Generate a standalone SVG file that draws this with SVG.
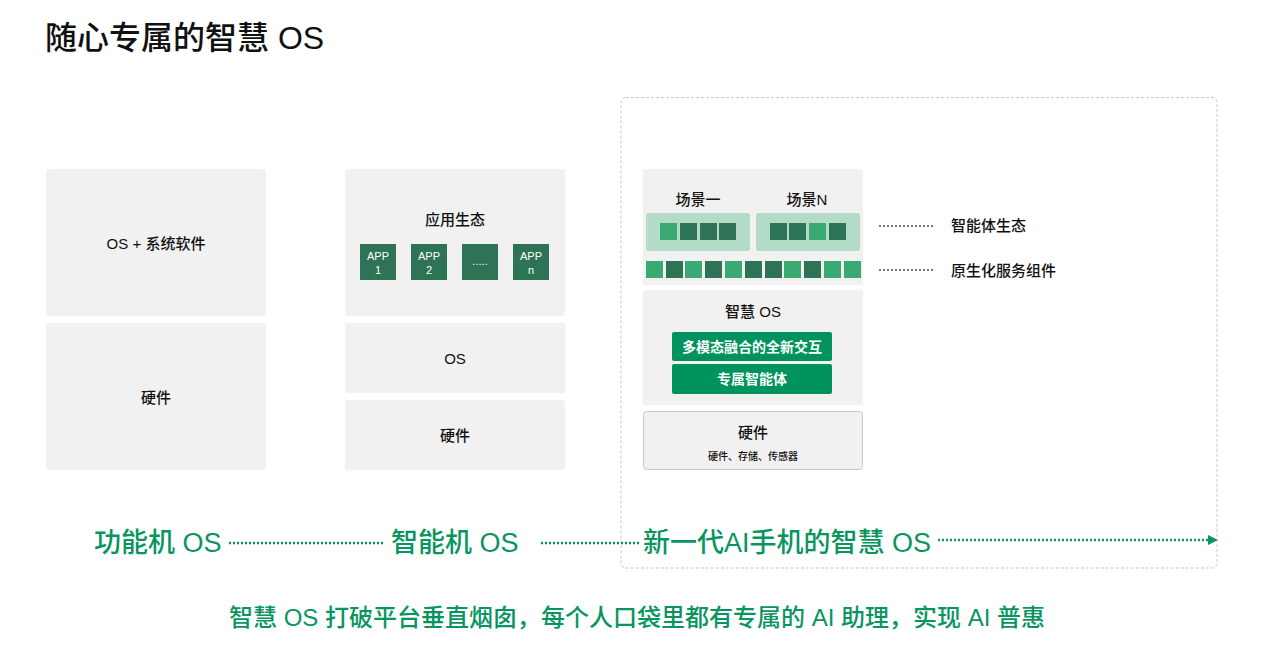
<svg xmlns="http://www.w3.org/2000/svg" width="1264" height="656" viewBox="0 0 1264 656">
<style>
text{font-family:"Liberation Sans","Noto Sans CJK SC",sans-serif;fill:#111}
.box{fill:#f1f1f1}
.t15{font-size:15px;text-anchor:middle;font-weight:500}
.app{fill:#2e7355}
.apt{font-size:11px;fill:#fff;text-anchor:middle}
.lg{fill:#3aaa72}
.dk{fill:#2e7355}
.btn{fill:#00935e}
.bt{font-size:14px;fill:#fff;text-anchor:middle;font-weight:bold}
.grn{fill:#08955f;font-size:27px;font-weight:500}
.dot{stroke:#08955f;stroke-width:2.5;stroke-dasharray:2 2;fill:none}
.gdot{stroke:#777;stroke-width:2;stroke-dasharray:2 2;fill:none}
.lab{font-size:15px;font-weight:500}
</style>
<defs>
<marker id="arr" viewBox="0 0 10 10" refX="0" refY="5" markerWidth="10" markerHeight="10" markerUnits="userSpaceOnUse" orient="auto">
<path d="M0,0 L10,5 L0,10 Z" fill="#08955f"/>
</marker>
</defs>
<rect width="1264" height="656" fill="#fff"/>
<text x="45" y="49" style="font-size:32px;font-weight:500">随心专属的智慧 OS</text>

<rect x="621" y="97.5" width="596" height="470.5" rx="5" fill="none" stroke="#c8c8c8" stroke-dasharray="3 2"/>

<g id="feature-os">
<rect class="box" x="46" y="169" width="220" height="147" rx="3"/>
<text class="t15" x="156" y="249">OS + 系统软件</text>
</g>
<g id="feature-hw">
<rect class="box" x="46" y="323" width="220" height="147" rx="3"/>
<text class="t15" x="156" y="403">硬件</text>
</g>

<g id="smart-eco">
<rect class="box" x="345" y="169" width="220" height="147" rx="3"/>
<text class="t15" x="455" y="225">应用生态</text>
<rect class="app" x="360" y="244" width="36" height="36"/>
<rect class="app" x="411" y="244" width="36" height="36"/>
<rect class="app" x="462" y="244" width="36" height="36"/>
<rect class="app" x="513" y="244" width="36" height="36"/>
<text class="apt" x="378" y="260">APP</text><text class="apt" x="378" y="274">1</text>
<text class="apt" x="429" y="260">APP</text><text class="apt" x="429" y="274">2</text>
<text class="apt" x="480" y="265">.....</text>
<text class="apt" x="531" y="260">APP</text><text class="apt" x="531" y="274">n</text>
</g>
<g id="smart-os">
<rect class="box" x="345" y="323" width="220" height="70" rx="3"/>
<text class="t15" x="455" y="364">OS</text>
</g>
<g id="smart-hw">
<rect class="box" x="345" y="400" width="220" height="70" rx="3"/>
<text class="t15" x="455" y="441">硬件</text>
</g>

<g id="ai-eco">
<rect class="box" x="643" y="169" width="220" height="116" rx="3"/>
<text class="t15" x="698" y="205">场景一</text>
<text class="t15" x="807" y="205">场景N</text>
<rect x="646" y="213" width="104" height="38" rx="3" fill="#b4dac8"/>
<rect x="756" y="213" width="104" height="38" rx="3" fill="#b4dac8"/>
<rect class="lg" x="660" y="223" width="17" height="17"/>
<rect class="dk" x="680" y="223" width="17" height="17"/>
<rect class="dk" x="700" y="223" width="17" height="17"/>
<rect class="dk" x="719" y="223" width="17" height="17"/>
<rect class="dk" x="770" y="223" width="17" height="17"/>
<rect class="dk" x="789" y="223" width="17" height="17"/>
<rect class="lg" x="809" y="223" width="17" height="17"/>
<rect class="dk" x="829" y="223" width="17" height="17"/>
<rect class="lg" x="646" y="261" width="17" height="17"/>
<rect class="dk" x="666" y="261" width="17" height="17"/>
<rect class="lg" x="685" y="261" width="17" height="17"/>
<rect class="dk" x="705" y="261" width="17" height="17"/>
<rect class="lg" x="725" y="261" width="17" height="17"/>
<rect class="dk" x="745" y="261" width="17" height="17"/>
<rect class="dk" x="765" y="261" width="17" height="17"/>
<rect class="lg" x="784" y="261" width="17" height="17"/>
<rect class="dk" x="804" y="261" width="17" height="17"/>
<rect class="lg" x="824" y="261" width="17" height="17"/>
<rect class="lg" x="844" y="261" width="17" height="17"/>
</g>
<g id="ai-os">
<rect class="box" x="643" y="290" width="220" height="115" rx="3"/>
<text class="t15" x="753" y="317">智慧 OS</text>
<rect class="btn" x="672" y="332" width="160" height="29" rx="2"/>
<text class="bt" x="752" y="352">多模态融合的全新交互</text>
<rect class="btn" x="672" y="364" width="160" height="30" rx="2"/>
<text class="bt" x="752" y="384">专属智能体</text>
</g>
<g id="ai-hw">
<rect x="643.5" y="411.5" width="219" height="58" rx="3" fill="#f1f1f1" stroke="#c8c8c8"/>
<text class="t15" x="753" y="438">硬件</text>
<text x="753" y="460" style="font-size:10px;text-anchor:middle;font-weight:500">硬件、存储、传感器</text>
</g>

<g id="labels">
<text class="lab" x="951" y="231">智能体生态</text>
<text class="lab" x="951" y="276">原生化服务组件</text>
</g>

<g id="timeline-labels">
<text class="grn" x="94" y="552">功能机 OS</text>
<text class="grn" x="391" y="552">智能机 OS</text>
<text class="grn" x="643" y="552">新一代AI手机的智慧 OS</text>
</g>

<g id="connectors">
<path class="gdot" d="M879,226 H933"/>
<path class="gdot" d="M879,270 H933"/>
<path class="dot" d="M229,543 H384"/>
<path class="dot" d="M541,543 H640"/>
<path class="dot" d="M938,540 H1208" marker-end="url(#arr)"/>
</g>

<text x="637" y="626" style="font-size:24px;fill:#08955f;text-anchor:middle;font-weight:500">智慧 OS 打破平台垂直烟囱，每个人口袋里都有专属的 AI 助理，实现 AI 普惠</text>
</svg>
